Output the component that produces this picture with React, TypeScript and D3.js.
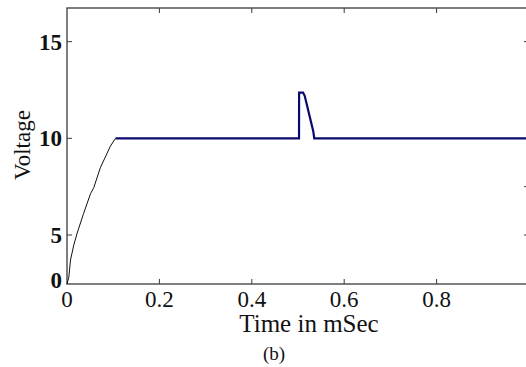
import React, { useEffect, useRef } from "react";
import * as d3 from "d3";

// rise of the capacitor voltage (black trace), time in mSec
const riseTime = [0, 0.004, 0.0076, 0.0147, 0.022, 0.036, 0.051, 0.058, 0.072, 0.094, 0.105];
const riseVolt = [0, 0.7, 2.45, 3.98, 5.1, 6.12, 7.14, 7.45, 8.47, 9.6, 10];

// regulated output with the disturbance pulse (navy trace)
const outTime = [0.105, 0.5022, 0.5024, 0.511, 0.5145, 0.5188, 0.5259, 0.533, 0.5352, 1.0];
const outVolt = [10, 10, 12.36, 12.36, 12.2, 11.77, 11.07, 10.37, 10, 10];

const xTicks = [0, 0.2, 0.4, 0.6, 0.8];
const xTickLabels = ["0", "0.2", "0.4", "0.6", "0.8"];
const yTicks = [0, 5, 10, 15];
const yTickLabels = ["0", "5", "10", "15"];
const yTicksRight = [5, 7.5, 15];

const W = 526,
  H = 367;

export default function App() {
  const ref = useRef<SVGSVGElement>(null);

  useEffect(() => {
    const svg = d3.select(ref.current);
    svg.selectAll("*").remove();

    const margin = { top: 8, left: 67, bottom: 83, right: -3 };
    const width = W - margin.left - margin.right;
    const height = H - margin.top - margin.bottom;

    const x = d3.scaleLinear().domain([0, 1]).range([0, width]);
    // axis of the original is squeezed below 5
    const y = d3.scaleLinear().domain([0, 5, 16.74]).range([height, height - 49, 0]);

    const g = svg
      .append("g")
      .attr("transform", "translate(" + margin.left + "," + margin.top + ")");

    const axisColor = "#3a3a3a";
    const serif = "'Liberation Serif', 'Times New Roman', serif";

    // ticks (inward)
    g.selectAll(".xt")
      .data(xTicks.slice(1))
      .enter()
      .append("line")
      .attr("x1", d => x(d))
      .attr("x2", d => x(d))
      .attr("y1", height)
      .attr("y2", height - 5)
      .attr("stroke", axisColor);
    g.selectAll(".xtt")
      .data(xTicks.slice(1))
      .enter()
      .append("line")
      .attr("x1", d => x(d))
      .attr("x2", d => x(d))
      .attr("y1", 0)
      .attr("y2", 5)
      .attr("stroke", axisColor);
    g.selectAll(".yt")
      .data(yTicks.slice(1))
      .enter()
      .append("line")
      .attr("x1", 0)
      .attr("x2", 5)
      .attr("y1", d => y(d))
      .attr("y2", d => y(d))
      .attr("stroke", axisColor);
    g.selectAll(".ytr")
      .data(yTicksRight)
      .enter()
      .append("line")
      .attr("x1", width - 5)
      .attr("x2", width)
      .attr("y1", d => y(d))
      .attr("y2", d => y(d))
      .attr("stroke", axisColor);

    // frame
    g.append("rect")
      .attr("x", 0)
      .attr("y", 0)
      .attr("width", width)
      .attr("height", height)
      .attr("fill", "none")
      .attr("stroke", axisColor)
      .attr("stroke-width", 1.3);

    const riseLine = d3
      .line<number>()
      .x(d => x(d))
      .y((d, i) => y(riseVolt[i]));
    const outLine = d3
      .line<number>()
      .x(d => x(d))
      .y((d, i) => y(outVolt[i]));

    g.append("path")
      .attr("d", riseLine(riseTime))
      .attr("fill", "none")
      .attr("stroke", "#111")
      .attr("stroke-width", 1);

    g.append("path")
      .attr("d", outLine(outTime))
      .attr("fill", "none")
      .attr("stroke", "#0a0a6e")
      .attr("stroke-width", 2.2);

    // tick labels
    g.selectAll(".xl")
      .data(xTicks)
      .enter()
      .append("text")
      .attr("x", d => x(d))
      .attr("y", height + 23)
      .attr("text-anchor", "middle")
      .attr("font-family", serif)
      .attr("font-size", 23)
      .attr("fill", "#111")
      .text((d, i) => xTickLabels[i]);

    g.selectAll(".yl")
      .data(yTicks)
      .enter()
      .append("text")
      .attr("x", -5)
      .attr("y", d => (d === 0 ? y(d) - 4 : y(d)))
      .attr("dy", "0.35em")
      .attr("text-anchor", "end")
      .attr("font-family", serif)
      .attr("font-weight", "bold")
      .attr("font-size", 23)
      .attr("fill", "#111")
      .text((d, i) => yTickLabels[i]);

    // axis titles
    g.append("text")
      .attr("x", 309 - margin.left)
      .attr("y", height + 48)
      .attr("text-anchor", "middle")
      .attr("font-family", serif)
      .attr("font-size", 25)
      .attr("fill", "#111")
      .text("Time in mSec");

    g.append("text")
      .attr("transform", "translate(" + (-37) + "," + (145 - margin.top) + ") rotate(-90)")
      .attr("text-anchor", "middle")
      .attr("font-family", serif)
      .attr("font-size", 23)
      .attr("fill", "#111")
      .text("Voltage");

    svg
      .append("text")
      .attr("x", 274)
      .attr("y", 360)
      .attr("text-anchor", "middle")
      .attr("font-family", serif)
      .attr("font-size", 19)
      .attr("fill", "#111")
      .text("(b)");
  }, []);

  return (
    <svg
      ref={ref}
      width={W}
      height={H}
      style={{ position: "absolute", left: 0, top: 0, background: "#fff" }}
    />
  );
}
